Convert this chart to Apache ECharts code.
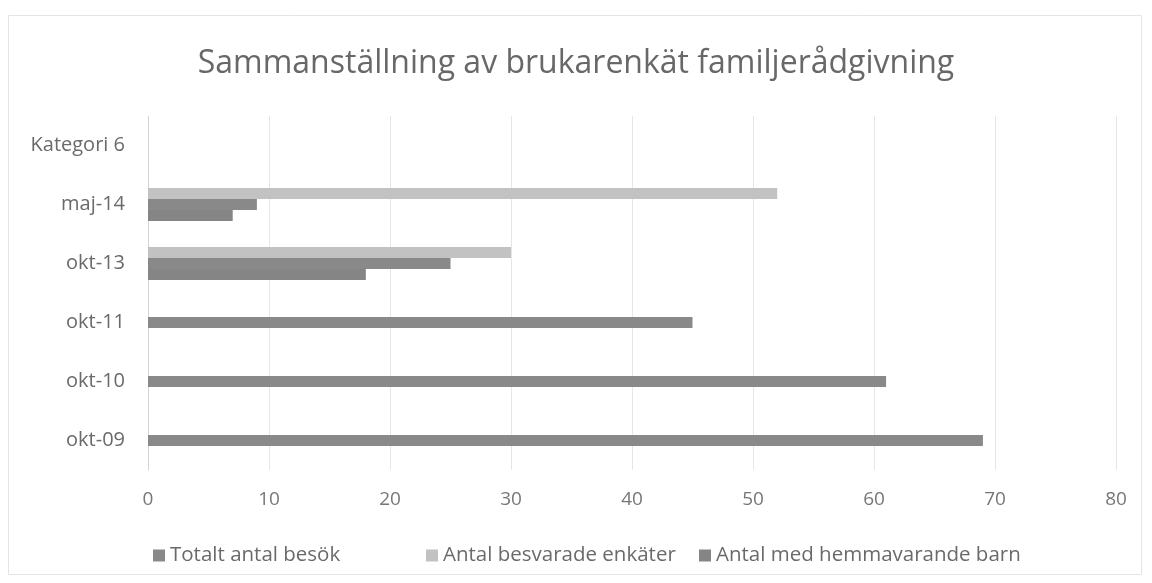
<!DOCTYPE html>
<html>
<head>
<meta charset="utf-8">
<script src="https://cdn.jsdelivr.net/npm/echarts@6/dist/echarts.min.js"></script>
<style>
  html, body { margin: 0; padding: 0; background: #fff; }
  #main { width: 1152px; height: 583px; }
</style>
</head>
<body>
<div id="main"></div>
<script>
// kategorier (nerifrån och upp)
var categories = ['okt-09', 'okt-10', 'okt-11', 'okt-13', 'maj-14', 'Kategori 6']
var totaltBesok = [69, 61, 45, 25, 9, null]
var besvaradeEnkater = [null, null, null, 30, 52, null]
var hemmavarandeBarn = [null, null, null, 18, 7, null]
var xTicks = [0, 10, 20, 30, 40, 50, 60, 70, 80]

var myChart = echarts.init(document.getElementById('main'))
var font = 'Open Sans'
var legendText = { fontFamily: font, fontSize: 20.5, color: '#6a6a6a' }
function legendItem (name, left) {
  return {
    top: 540,
    left: left,
    itemWidth: 12,
    itemHeight: 12,
    icon: 'rect',
    textStyle: legendText,
    data: [name]
  }
}
myChart.setOption({
  backgroundColor: '#ffffff',
  title: {
    text: 'Sammanställning av brukarenkät familjerådgivning',
    left: 'center',
    top: 43,
    textStyle: { fontFamily: font, fontSize: 32, fontWeight: 'normal', color: '#686868' }
  },
  grid: { left: 148, right: 36, top: 116, bottom: 113 },
  // Excel-liknande förklaring: tre poster med egna positioner
  legend: [
    legendItem('Totalt antal besök', 148),
    legendItem('Antal besvarade enkäter', 421),
    legendItem('Antal med hemmavarande barn', 694)
  ],
  xAxis: {
    type: 'value',
    min: xTicks[0],
    max: xTicks[xTicks.length - 1],
    interval: 10,
    axisLine: { show: false },
    axisTick: { show: false },
    splitLine: { lineStyle: { color: '#e6e6e6' } },
    axisLabel: { fontFamily: font, fontSize: 19, color: '#777', margin: 20 }
  },
  yAxis: {
    type: 'category',
    data: categories,
    axisLine: { lineStyle: { color: '#d4d4d4' } },
    axisTick: { show: false },
    axisLabel: { fontFamily: font, fontSize: 20, color: '#6a6a6a', margin: 23 }
  },
  // ECharts lägger första serien överst i varje kategori
  series: [
    {
      name: 'Antal besvarade enkäter',
      type: 'bar',
      barWidth: 11,
      barGap: '0%',
      itemStyle: { color: '#c2c2c2' },
      data: besvaradeEnkater
    },
    {
      name: 'Totalt antal besök',
      type: 'bar',
      barWidth: 11,
      barGap: '0%',
      itemStyle: { color: '#898989' },
      data: totaltBesok
    },
    {
      name: 'Antal med hemmavarande barn',
      type: 'bar',
      barWidth: 11,
      barGap: '0%',
      itemStyle: { color: '#858585' },
      data: hemmavarandeBarn
    }
  ],
  graphic: [
    {
      type: 'rect',
      shape: { x: 8.5, y: 15.5, width: 1133, height: 559 },
      style: { fill: 'none', stroke: '#e4e4e4', lineWidth: 1 },
      silent: true
    }
  ]
})
</script>
</body>
</html>
